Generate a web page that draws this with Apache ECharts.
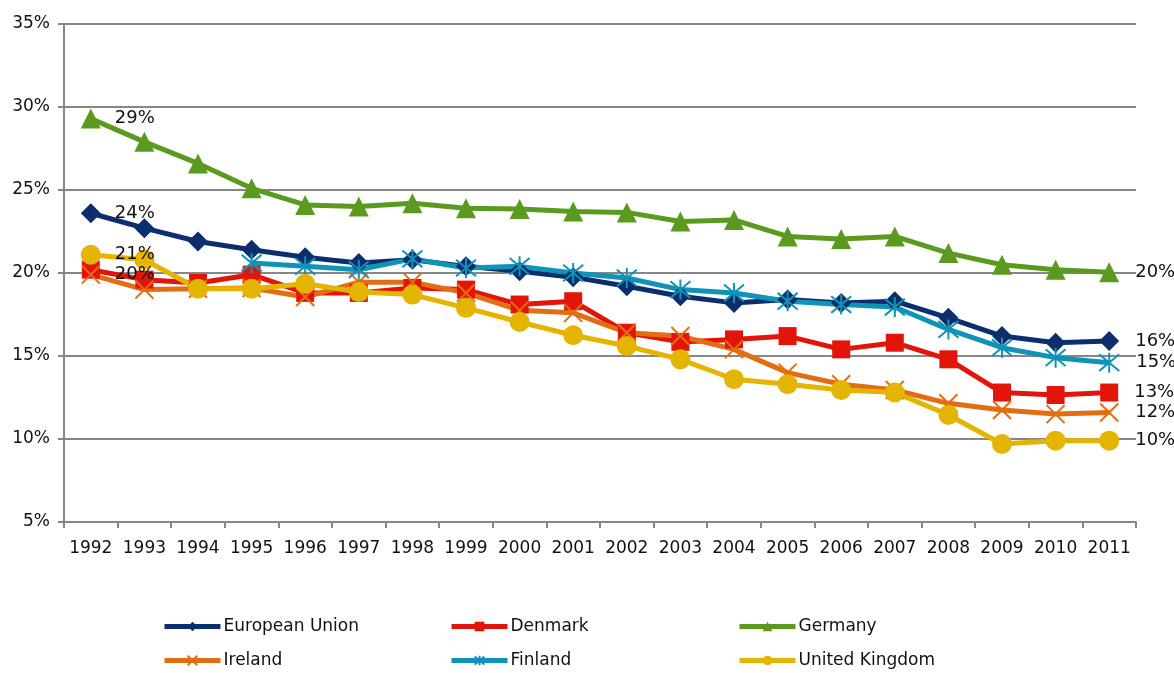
<!DOCTYPE html>
<html>
<head>
<meta charset="utf-8">
<script src="https://cdn.jsdelivr.net/npm/echarts@6/dist/echarts.min.js"></script>
<style>
  html, body { margin: 0; padding: 0; background: #fff; }
  #chart { width: 1174px; height: 673px; }
</style>
</head>
<body>
<div id="chart"></div>
<script>
// Share of population (%) per year, six series
const years = ['1992', '1993', '1994', '1995', '1996', '1997', '1998', '1999', '2000', '2001',
  '2002', '2003', '2004', '2005', '2006', '2007', '2008', '2009', '2010', '2011']

const euValues      = [23.6, 22.7, 21.9, 21.4, 20.95, 20.6, 20.8, 20.4, 20.1, 19.75, 19.2, 18.6, 18.2, 18.4, 18.2, 18.3, 17.3, 16.2, 15.8, 15.9]
const denmarkValues = [20.2, 19.6, 19.4, 19.9, 18.8, 18.8, 19.1, 19.0, 18.1, 18.3, 16.4, 15.85, 16.0, 16.2, 15.4, 15.8, 14.8, 12.8, 12.65, 12.8]
const germanyValues = [29.3, 27.9, 26.6, 25.1, 24.1, 24.0, 24.2, 23.9, 23.85, 23.7, 23.65, 23.1, 23.2, 22.2, 22.05, 22.2, 21.2, 20.5, 20.2, 20.05]
const irelandValues = [19.9, 19.0, 19.05, 19.1, 18.55, 19.45, 19.45, 18.8, 17.75, 17.6, 16.4, 16.2, 15.4, 14.0, 13.3, 12.95, 12.15, 11.75, 11.5, 11.6]
const finlandValues = [null, null, null, 20.6, 20.4, 20.2, 20.85, 20.3, 20.4, 20.0, 19.7, 19.0, 18.8, 18.3, 18.1, 17.95, 16.6, 15.5, 14.9, 14.6]
const ukValues      = [21.1, 20.8, 19.05, 19.05, 19.35, 18.85, 18.7, 17.9, 17.05, 16.25, 15.6, 14.8, 13.6, 13.3, 12.95, 12.8, 11.45, 9.7, 9.9, 9.9]

const yTicks = { min: 5, max: 35, step: 5 }

const FONT = '"DejaVu Sans", Verdana, sans-serif'
const GRID_GRAY = '#878787'

const X_SYMBOL = 'path://M0,0L10,10M10,0L0,10'
const STAR_SYMBOL = 'path://M0,0L10,10M10,0L0,10M5,-1L5,11'

function makeSeries(name, values, color, symbol, size, labelIdx, stroke) {
  const last = values.length - 1
  return {
    name,
    type: 'line',
    data: values.map((v, i) => labelIdx.includes(i)
      ? { value: v, label: { show: true, distance: i === last ? 16 : 14 } }
      : v),
    symbol,
    symbolSize: size,
    showAllSymbol: true,
    connectNulls: false,
    lineStyle: { color, width: 5 },
    itemStyle: stroke
      ? { color: 'transparent', borderColor: color, borderWidth: 2 }
      : { color, borderWidth: 0 },
    label: {
      show: false,
      position: 'right',
      color: '#111',
      fontFamily: FONT,
      fontSize: 18,
      formatter: (p) => Math.round(p.value) + '%',
    },
    emphasis: { disabled: true },
    animation: false,
  }
}

const chart = echarts.init(document.getElementById('chart'))

const series = [
  makeSeries('European Union', euValues, '#0c2e6d', 'diamond', 20, [0, 19]),
  makeSeries('Denmark', denmarkValues, '#e3150b', 'rect', 18, [19]),
  makeSeries('Germany', germanyValues, '#5a9a1e', 'triangle', 20, [0, 19]),
  makeSeries('Ireland', irelandValues, '#e36d12', X_SYMBOL, 18, [0, 19], true),
  makeSeries('Finland', finlandValues, '#0f93b6', STAR_SYMBOL, 20, [19], true),
  makeSeries('United Kingdom', ukValues, '#e3b500', 'circle', 20, [0, 19]),
]

const legendBase = {
  orient: 'vertical',
  top: 613,
  height: 120,
  itemWidth: 56,
  itemHeight: 12,
  itemGap: 17,
  lineStyle: { width: 5 },
  textStyle: { fontFamily: FONT, fontSize: 17, color: '#111', padding: [0, 0, 0, -2] },
  selectedMode: false,
}

chart.setOption({
  animation: false,
  textStyle: { fontFamily: FONT },
  grid: { left: 64, right: 38, top: 24, bottom: 151, containLabel: false },
  legend: [
    Object.assign({}, legendBase, { left: 157, data: ['European Union', 'Ireland'] }),
    Object.assign({}, legendBase, { left: 444, data: ['Denmark', 'Finland'] }),
    Object.assign({}, legendBase, { left: 732, data: ['Germany', 'United Kingdom'] }),
  ],
  xAxis: {
    type: 'category',
    data: years,
    boundaryGap: true,
    axisLine: { lineStyle: { color: GRID_GRAY, width: 2 } },
    axisTick: { show: true, alignWithLabel: false, length: 6, lineStyle: { color: GRID_GRAY, width: 2 } },
    axisLabel: { color: '#111', fontSize: 17, margin: 18, interval: 0 },
    splitLine: { show: false },
  },
  yAxis: {
    type: 'value',
    min: yTicks.min,
    max: yTicks.max,
    interval: yTicks.step,
    axisLine: { show: true, lineStyle: { color: GRID_GRAY, width: 2 } },
    axisTick: { show: true, length: 6, lineStyle: { color: GRID_GRAY, width: 2 } },
    axisLabel: { color: '#111', fontSize: 17, margin: 14, formatter: (v) => v + '%' },
    splitLine: { show: true, lineStyle: { color: GRID_GRAY, width: 2 } },
  },
  series,
})
</script>
</body>
</html>
